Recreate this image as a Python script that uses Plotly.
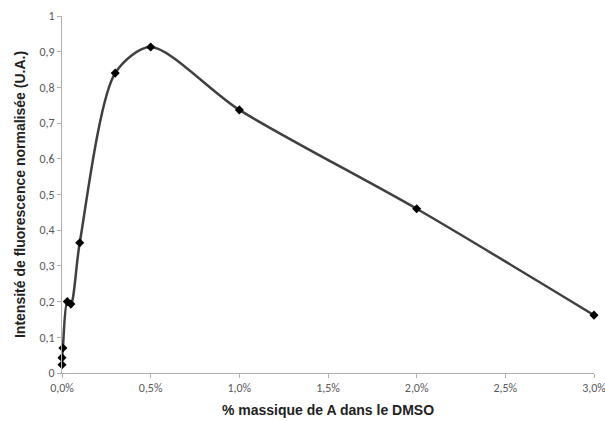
import plotly.graph_objects as go

x_pct = [0.0, 0.0, 0.005, 0.03, 0.05, 0.1, 0.3, 0.5, 1.0, 2.0, 3.0]
intensity = [0.023, 0.043, 0.070, 0.200, 0.193, 0.365, 0.840, 0.913, 0.737, 0.460, 0.162]

x_ticks = [0, 0.5, 1.0, 1.5, 2.0, 2.5, 3.0]
x_ticklabels = ["0,0%", "0,5%", "1,0%", "1,5%", "2,0%", "2,5%", "3,0%"]
y_ticks = [0, 0.1, 0.2, 0.3, 0.4, 0.5, 0.6, 0.7, 0.8, 0.9, 1]
y_ticklabels = ["0", "0,1", "0,2", "0,3", "0,4", "0,5", "0,6", "0,7", "0,8", "0,9", "1"]

fig = go.Figure()
fig.add_trace(go.Scatter(
    x=x_pct, y=intensity, mode="lines+markers",
    line=dict(color="#404040", width=2.5, shape="spline", smoothing=0.8),
    marker=dict(symbol="diamond", size=7, color="black"),
    cliponaxis=False,
    showlegend=False,
))

axis_common = dict(
    showgrid=False, zeroline=False, showline=True, linecolor="#b0b0b0", linewidth=1,
    ticks="outside", ticklen=4, tickcolor="#b0b0b0", automargin=False,
    tickfont=dict(family="Carlito, Open Sans, Liberation Sans, Arial", size=12, color="#595959"),
)

fig.update_layout(
    width=605, height=421,
    margin=dict(l=62, r=11, t=16, b=48),
    paper_bgcolor="white", plot_bgcolor="white",
    xaxis=dict(range=[0, 3.0], tickvals=x_ticks, ticktext=x_ticklabels, ticklabeloverflow="allow",
               title=dict(text="% massique de A dans le DMSO", standoff=10,
                          font=dict(family="Liberation Sans, Arial", size=14, color="#222222", weight="bold")),
               **axis_common),
    yaxis=dict(range=[0, 1], tickvals=y_ticks, ticktext=y_ticklabels,
               title=dict(text="Intensité de fluorescence normalisée (U.A.)", standoff=10,
                          font=dict(family="Liberation Sans, Arial", size=14, color="#222222", weight="bold")),
               **axis_common),
)

fig.write_html("out.html", config={"displayModeBar": False},
               post_script="document.body.style.margin='0';document.body.style.overflow='hidden';")
